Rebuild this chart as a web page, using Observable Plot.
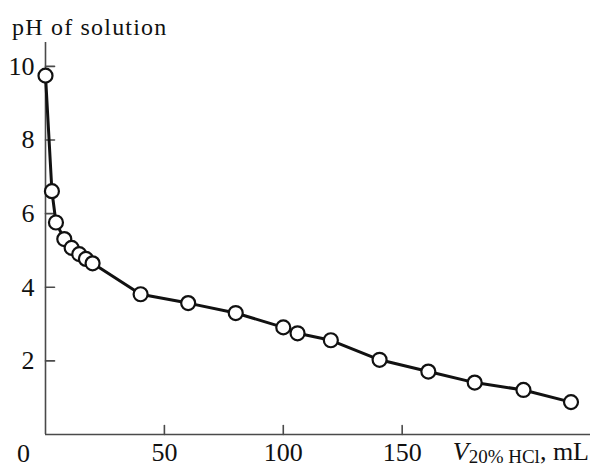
<!DOCTYPE html>
<html>
<head>
<meta charset="utf-8">
<script src="https://cdn.jsdelivr.net/npm/d3@7"></script>
<script src="https://cdn.jsdelivr.net/npm/@observablehq/plot@0.6"></script>
<style>
  html, body { margin: 0; padding: 0; background: #fff; }
  #chart { width: 591px; height: 468px; }
</style>
</head>
<body>
<div id="chart"></div>
<script>
// Data
const volume = [0, 2.7, 4.4, 7.9, 11, 14.2, 17, 19.8, 40, 60, 80, 100, 106, 120, 140.5, 161, 180.5, 201, 221];
const pH = [9.75, 6.61, 5.76, 5.31, 5.07, 4.9, 4.77, 4.65, 3.81, 3.57, 3.3, 2.91, 2.75, 2.56, 2.03, 1.71, 1.41, 1.21, 0.88];
const xTicks = [50, 100, 150];
const yTicks = [2, 4, 6, 8, 10];
const yLabel = "pH of solution";

const data = volume.map((v, i) => ({v, pH: pH[i]}));
const tickShape = {draw(context, l) { context.moveTo(0, 0); context.lineTo(0, -l); }};
const axisColor = "#4a4a4a";
const fontFamily = "'Liberation Serif', 'DejaVu Serif', serif";

const chart = Plot.plot({
  width: 591,
  height: 468,
  marginLeft: 45,
  marginRight: 1,
  marginTop: 42,
  marginBottom: 34,
  style: {fontFamily, fontSize: "26px", color: "#111", background: "#fff"},
  x: {domain: [0, 229.2]},
  y: {domain: [0, 10.65]},
  marks: [
    Plot.ruleY([0], {stroke: axisColor, strokeWidth: 1.6}),
    Plot.ruleX([0], {stroke: axisColor, strokeWidth: 1.6}),
    Plot.vector(xTicks, {x: d => d, y: 0, length: 9, rotate: 0, anchor: "start", shape: tickShape, stroke: axisColor, strokeWidth: 1.6}),
    Plot.vector(yTicks, {x: 0, y: d => d, length: 9, rotate: 90, anchor: "start", shape: tickShape, stroke: axisColor, strokeWidth: 1.6}),
    Plot.axisX({ticks: xTicks, tickSize: 0, tickPadding: 8, label: null, fontSize: 26}),
    Plot.axisY({ticks: yTicks, tickSize: 0, tickPadding: 11, label: null, fontSize: 26}),
    Plot.text(["0"], {x: 0, y: 0, text: d => d, dx: -22, dy: 19, fontSize: 26}),
    Plot.line(data, {x: "v", y: "pH", stroke: "#111", strokeWidth: 3}),
    Plot.dot(data, {x: "v", y: "pH", r: 7, fill: "#fff", stroke: "#111", strokeWidth: 2.2})
  ]
});

document.getElementById("chart").appendChild(chart);

const svg = d3.select(chart);
svg.append("text")
  .attr("x", 12).attr("y", 35)
  .attr("text-anchor", "start")
  .attr("font-family", fontFamily)
  .attr("font-size", 24)
  .attr("letter-spacing", 1.2)
  .attr("fill", "#111")
  .text(yLabel);

const xl = svg.append("text")
  .attr("x", 589).attr("y", 460)
  .attr("text-anchor", "end")
  .attr("font-family", fontFamily)
  .attr("font-size", 26)
  .attr("fill", "#111");
xl.append("tspan").attr("font-style", "italic").text("V");
xl.append("tspan").attr("font-size", 19).attr("dy", 3).text("20% HCl");
xl.append("tspan").attr("dy", -3).text(", mL");
</script>
</body>
</html>
